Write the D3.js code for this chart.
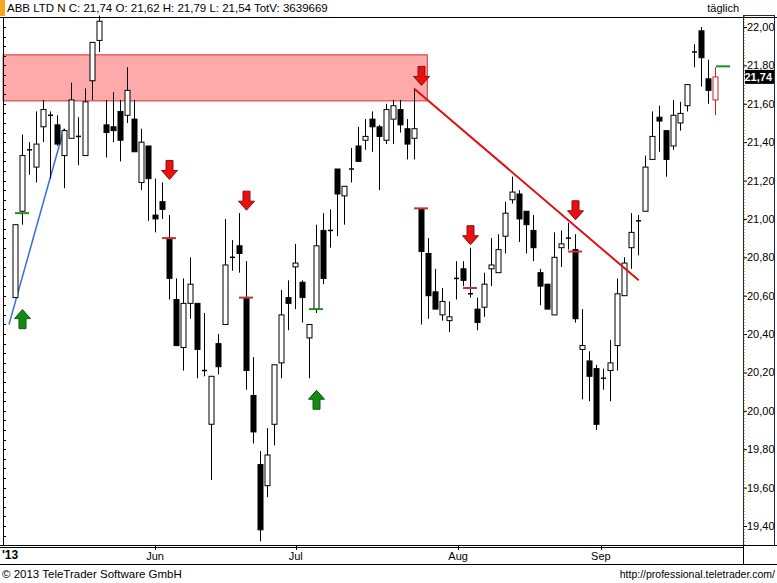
<!DOCTYPE html>
<html><head><meta charset="utf-8">
<script src="https://cdn.jsdelivr.net/npm/d3@7"></script>
<style>body{margin:0;background:#fff}svg{display:block;font-family:"Liberation Sans",Arial,sans-serif}</style>
</head><body><div id="chart"></div>
<script>
// daily OHLC
const opens = [20.59,21.04,21.36,21.27,21.48,21.54,21.49,21.33,21.42,21.43,21.33,21.72,21.93,21.49,21.48,21.56,21.54,21.52,21.19,21.38,
21.02,21.09,20.90,20.58,20.33,20.56,20.56,20.21,19.93,20.35,20.45,20.80,20.86,20.59,20.08,19.72,19.61,19.93,20.25,20.59,
20.75,20.67,20.38,20.53,20.94,20.94,21.26,21.12,21.26,21.38,21.41,21.52,21.48,21.41,21.52,21.57,21.47,21.42,21.05,20.82,
20.62,20.50,20.47,20.69,20.74,20.61,20.53,20.54,20.74,20.72,20.91,21.10,21.13,21.04,20.94,20.72,20.66,20.50,20.85,20.90,
20.84,20.32,20.26,20.22,20.17,20.21,20.34,20.60,20.85,20.99,21.04,21.31,21.53,21.46,21.38,21.50,21.59,21.87,21.98,21.73,21.62];
const closes = [20.97,21.33,21.36,21.39,21.57,21.54,21.39,21.46,21.62,21.43,21.61,21.92,22.03,21.45,21.46,21.41,21.67,21.35,21.40,21.21,
21.00,21.05,20.69,20.34,20.56,20.66,20.32,20.21,20.18,20.23,20.76,20.80,20.82,20.21,19.89,19.38,19.77,20.24,20.50,20.56,
20.77,20.59,20.45,20.86,20.69,20.94,21.13,21.17,21.26,21.30,21.43,21.48,21.43,21.57,21.59,21.49,21.39,21.47,20.83,20.60,
20.53,20.57,20.49,20.69,20.68,20.61,20.46,20.66,20.76,20.84,21.03,21.14,21.00,20.97,20.85,20.65,20.53,20.80,20.87,20.90,
20.48,20.34,20.18,19.93,20.17,20.25,20.61,20.77,20.93,20.99,21.27,21.43,21.51,21.31,21.54,21.55,21.70,21.87,21.84,21.67,21.74];
const highs = [20.97,21.44,21.40,21.56,21.62,21.56,21.54,21.47,21.71,21.53,21.68,21.92,22.06,21.62,21.66,21.62,21.79,21.62,21.47,21.38,
21.21,21.19,21.02,20.69,20.69,20.80,20.56,20.51,20.18,20.40,21.00,20.89,21.03,20.78,20.28,19.79,19.91,20.24,20.63,20.68,
20.87,20.68,20.45,20.97,21.03,21.05,21.26,21.17,21.37,21.48,21.52,21.56,21.49,21.60,21.62,21.62,21.52,21.68,21.05,20.90,
20.74,20.64,20.57,20.78,20.78,20.85,20.59,20.72,20.90,20.92,21.09,21.22,21.15,21.04,21.02,20.74,20.66,20.93,20.94,20.98,
20.92,20.53,20.31,20.24,20.22,20.37,20.69,20.80,21.03,21.02,21.33,21.56,21.59,21.46,21.62,21.61,21.70,21.91,22.00,21.83,21.79];
const lows = [20.59,20.97,21.23,21.19,21.40,21.21,21.38,21.16,21.42,21.28,21.33,21.62,21.87,21.32,21.40,21.30,21.50,21.35,21.15,20.99,
20.93,21.00,20.58,20.34,20.21,20.48,20.17,20.18,19.64,20.19,20.45,20.73,20.72,20.11,19.83,19.32,19.55,19.82,20.17,20.42,
20.53,20.46,20.17,20.51,20.66,20.85,20.91,20.97,21.19,21.30,21.36,21.35,21.15,21.39,21.39,21.45,21.31,21.31,20.45,20.48,
20.53,20.47,20.41,20.58,20.65,20.59,20.42,20.49,20.65,20.72,20.82,21.08,20.88,20.82,20.78,20.55,20.53,20.50,20.75,20.84,
20.46,20.06,20.05,19.90,20.11,20.05,20.21,20.60,20.74,20.81,21.04,21.31,21.35,21.22,21.36,21.46,21.56,21.79,21.69,21.60,21.54];

const yTicks = [19.4,19.6,19.8,20.0,20.2,20.4,20.6,20.8,21.0,21.2,21.4,21.6,21.8,22.0];
const months = [{label:"Jun", i:20}, {label:"Jul", i:40.1}, {label:"Aug", i:63.3}, {label:"Sep", i:83.7}];
const upArrows = [1, 43];
const downArrows = [22, 33, 58, 65, 80];
const markers = [
  {i:1, v:21.03, c:"#228b22"}, {i:22, v:20.90, c:"#c83232"}, {i:33, v:20.59, c:"#c83232"},
  {i:43, v:20.53, c:"#228b22"}, {i:58, v:21.055, c:"#c83232"}, {i:65, v:20.64, c:"#c83232"},
  {i:80, v:20.83, c:"#c83232"}
];
const zone = {i0:-1.7, i1:58.9, top:21.855, bottom:21.615};
const blueLine = [{i:-0.86, v:20.45}, {i:7, v:21.47}];
const redLine = [{i:57, v:21.68}, {i:89.1, v:20.68}];

const W = 777, H = 583;
const x = d3.scaleLinear().domain([0, 100]).range([15, 715]);
const y = d3.scaleLinear().domain([19.4, 22.0]).range([526, 27]);
const fmt = v => d3.format(".2f")(v).replace(".", ",");

const svg = d3.select("#chart").append("svg").attr("width", W).attr("height", H);

// frames
svg.append("rect").attr("x", 0).attr("y", 0).attr("width", 5).attr("height", 16).attr("fill", "#f5a623");
svg.append("line").attr("x1", 0).attr("x2", W).attr("y1", 17.5).attr("y2", 17.5).attr("stroke", "#000");
svg.append("text").attr("x", 7).attr("y", 12).attr("font-size", 11.5).text("ABB LTD N C: 21,74 O: 21,62 H: 21,79 L: 21,54 TotV: 3639669");
svg.append("text").attr("x", 739).attr("y", 12).attr("font-size", 11).attr("text-anchor", "end").text("täglich");

// zone
svg.append("rect")
  .attr("x", x(zone.i0)).attr("y", y(zone.top))
  .attr("width", x(zone.i1) - x(zone.i0)).attr("height", y(zone.bottom) - y(zone.top))
  .attr("fill", "#ffaaaa").attr("stroke", "#d03030").attr("stroke-width", 1);

// left axis
svg.append("line").attr("x1", 3.5).attr("x2", 3.5).attr("y1", 18).attr("y2", 545).attr("stroke", "#000");
d3.range(19.35, 22.1, 0.05).forEach(v => {
  svg.append("line").attr("x1", 3).attr("x2", 6).attr("y1", Math.round(y(v)) + 0.5).attr("y2", Math.round(y(v)) + 0.5).attr("stroke", "#000");
});

// right axis
svg.append("rect").attr("x", 743.5).attr("y", 15.5).attr("width", 31).attr("height", 530).attr("fill", "none").attr("stroke", "#1a2a5a");
svg.append("line").attr("x1", 744.5).attr("x2", 744.5).attr("y1", 16).attr("y2", 545).attr("stroke", "#e0b000").attr("stroke-dasharray", "1,2");
const yAxis = svg.append("g").attr("transform", "translate(744,0)")
  .call(d3.axisRight(y).tickValues(yTicks).tickFormat(fmt).tickSize(3));
yAxis.select(".domain").remove();
yAxis.selectAll("text").attr("font-size", 11).attr("font-family", "Liberation Sans, Arial").attr("fill", "#000").attr("x", 3);

// bottom axis
svg.append("line").attr("x1", 0).attr("x2", 777).attr("y1", 545.5).attr("y2", 545.5).attr("stroke", "#000");
svg.append("line").attr("x1", 0).attr("x2", 743).attr("y1", 547.5).attr("y2", 547.5).attr("stroke", "#000");
svg.append("line").attr("x1", 0).attr("x2", 777).attr("y1", 564.5).attr("y2", 564.5).attr("stroke", "#000");
svg.append("line").attr("x1", 743.5).attr("x2", 743.5).attr("y1", 545).attr("y2", 565).attr("stroke", "#000");
svg.append("text").attr("x", 2).attr("y", 559).attr("font-size", 12).attr("font-weight", "bold").text("'13");
months.forEach(m => {
  svg.append("line").attr("x1", Math.round(x(m.i)) + 0.5).attr("x2", Math.round(x(m.i)) + 0.5).attr("y1", 546).attr("y2", 550).attr("stroke", "#000");
  svg.append("text").attr("x", x(m.i)).attr("y", 560).attr("font-size", 11).attr("text-anchor", "middle").text(m.label);
});
svg.append("text").attr("x", 2).attr("y", 578).attr("font-size", 11.5).text("© 2013 TeleTrader Software GmbH");
svg.append("text").attr("x", 775).attr("y", 578).attr("font-size", 10.5).attr("text-anchor", "end").text("http://professional.teletrader.com/");

// trend lines
const line = d3.line().x(d => x(d.i)).y(d => y(d.v));
svg.append("path").datum(blueLine).attr("d", line).attr("fill", "none").attr("stroke", "#3a6ee0").attr("stroke-width", 1.5);

// candles
const n = opens.length;
const g = svg.append("g");
d3.range(n).forEach(i => {
  const cx = Math.round(x(i)) + 0.5;
  const last = i === n - 1;
  const col = last ? "#d02020" : "#000";
  g.append("line").attr("x1", cx).attr("x2", cx).attr("y1", y(highs[i])).attr("y2", y(lows[i])).attr("stroke", col);
  const top = y(Math.max(opens[i], closes[i])), bot = y(Math.min(opens[i], closes[i]));
  const up = closes[i] >= opens[i];
  if (bot - top < 1.5) {
    g.append("line").attr("x1", cx - 2.5).attr("x2", cx + 2.5).attr("y1", top).attr("y2", top).attr("stroke", col).attr("stroke-width", 1.5);
  } else {
    g.append("rect").attr("x", cx - 2.5).attr("y", top).attr("width", 5).attr("height", bot - top)
      .attr("fill", up ? "#fff" : "#000").attr("stroke", col);
  }
});

svg.append("path").datum(redLine).attr("d", line).attr("fill", "none").attr("stroke", "#e01010").attr("stroke-width", 2);

// markers
markers.forEach(m => {
  svg.append("line").attr("x1", x(m.i) - 7).attr("x2", x(m.i) + 7).attr("y1", y(m.v)).attr("y2", y(m.v)).attr("stroke", m.c).attr("stroke-width", 2);
});
svg.append("line").attr("x1", x(100) + 1).attr("x2", x(100) + 15).attr("y1", y(21.795)).attr("y2", y(21.795)).attr("stroke", "#228b22").attr("stroke-width", 2);

// arrows (signal candle; placed beyond the extreme of the signal and previous candle)
function arrow(cx, tipY, dir, fill, stroke) {
  const s = dir; // 1 = down, -1 = up
  const pts = [[0,0],[-8,-9*s],[-3.5,-9*s],[-3.5,-19*s],[3.5,-19*s],[3.5,-9*s],[8,-9*s]];
  svg.append("path").attr("d", d3.line()(pts.map(p => [cx + p[0], tipY + p[1]])) + "Z")
    .attr("fill", fill).attr("stroke", stroke).attr("stroke-width", 1);
}
downArrows.forEach(i => arrow(Math.round(x(i)) + 0.5, y(Math.max(highs[i], highs[i - 1])) - 3, 1, "#e81010", "#901010"));
upArrows.forEach(i => arrow(Math.round(x(i)) + 0.5, y(Math.min(lows[i], lows[i - 1])) + 12, -1, "#138a13", "#0a5a0a"));

// last price label
svg.append("rect").attr("x", 745).attr("y", y(21.74) - 7).attr("width", 29).attr("height", 14).attr("fill", "#000");
svg.append("text").attr("x", 772).attr("y", y(21.74) + 4.5).attr("font-size", 11).attr("font-weight", "bold").attr("fill", "#fff").attr("text-anchor", "end").text("21,74");
</script></body></html>
